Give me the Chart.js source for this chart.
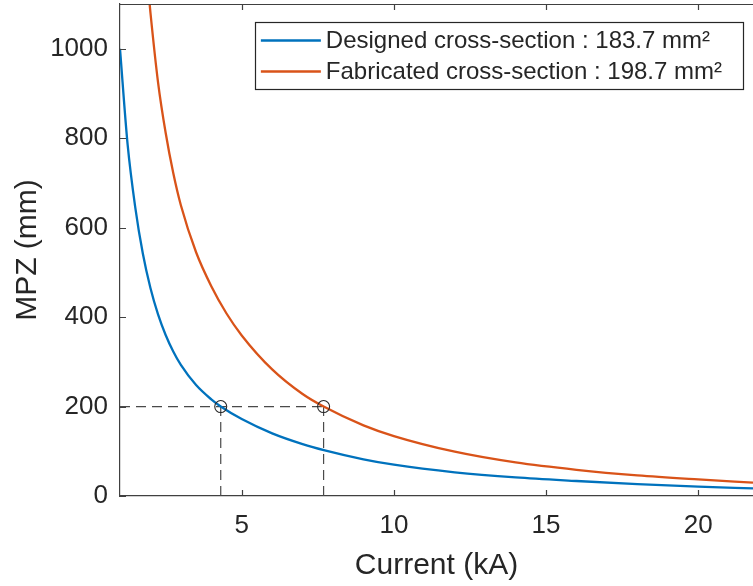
<!DOCTYPE html>
<html><head><meta charset="utf-8">
<script src="https://cdn.jsdelivr.net/npm/chart.js@4.4.0/dist/chart.umd.min.js"></script>
<style>html,body{margin:0;padding:0;background:#fff;overflow:hidden}#wrap{width:753px;height:586px}</style>
</head><body><div id="wrap"><canvas id="c" width="753" height="586"></canvas></div>
<script>
// ---- data ----
const designedX = [1, 1.25, 1.5, 1.75, 2, 2.25, 2.5, 2.75, 3, 3.5, 4, 4.31, 5, 6, 7, 7.73, 9, 10, 12, 14, 16, 18, 20, 21.8];
const designedY = [1000, 786, 646, 542, 465, 406, 360, 323, 293, 248, 216, 200, 172, 140, 116, 102, 82, 70, 53, 41.5, 33.5, 26.5, 21, 17];
const fabricatedX = [1.9, 2, 2.25, 2.5, 2.75, 3, 3.5, 4, 4.5, 5, 6, 7, 7.69, 9, 10, 12, 14, 16, 18, 20, 21.8];
const fabricatedY = [1154, 1081, 925, 812, 722, 650, 545, 469, 408, 359, 283, 228, 200, 158, 134, 99, 75, 58.5, 46, 37, 30];
const markerX = [4.31, 7.69];
const markerY = [200, 200];
const xTicks = [5, 10, 15, 20];
const yTicks = [0, 200, 400, 600, 800, 1000];
const seriesLabels = ['Designed cross-section : 183.7 mm\u00B2', 'Fabricated cross-section : 198.7 mm\u00B2'];
const xTitle = 'Current (kA)';
const yTitle = 'MPZ (mm)';

const TXT = '#262626';
const AX = '#404040';
const FONT = "'Liberation Sans', Arial, sans-serif";

const pts = (xs, ys) => xs.map((x, i) => ({x, y: ys[i]}));

const datasets = [
  { label: '_markers', data: pts(markerX, markerY), showLine: false, pointRadius: 6, pointHoverRadius: 6,
    pointStyle: 'circle', pointBackgroundColor: 'rgba(0,0,0,0)', pointBorderColor: '#262626', pointBorderWidth: 1.1 },
  { label: seriesLabels[0], data: pts(designedX, designedY), borderColor: '#0072BD', borderWidth: 2.3,
    pointRadius: 0, cubicInterpolationMode: 'monotone', fill: false },
  { label: seriesLabels[1], data: pts(fabricatedX, fabricatedY), borderColor: '#D95319', borderWidth: 2.3,
    pointRadius: 0, cubicInterpolationMode: 'monotone', fill: false },
  { label: '_h', data: [{x: 1, y: markerY[0]}, {x: markerX[1], y: markerY[1]}], borderColor: '#4a4a4a', borderWidth: 1.2,
    borderDash: [10, 6], pointRadius: 0 },
  { label: '_v1', data: [{x: markerX[0], y: 0}, {x: markerX[0], y: markerY[0]}], borderColor: '#4a4a4a', borderWidth: 1.2,
    borderDash: [10, 6], pointRadius: 0 },
  { label: '_v2', data: [{x: markerX[1], y: 0}, {x: markerX[1], y: markerY[1]}], borderColor: '#4a4a4a', borderWidth: 1.2,
    borderDash: [10, 6], pointRadius: 0 }
];

const axesPlugin = {
  id: 'matlabAxes',
  afterDraw(chart) {
    const {ctx, chartArea: a, scales: {x, y}} = chart;
    ctx.save();
    ctx.strokeStyle = AX; ctx.lineWidth = 1.2;
    ctx.beginPath();
    ctx.moveTo(a.left, a.top + 0.5); ctx.lineTo(a.right, a.top + 0.5);
    xTicks.forEach(v => {
      const px = Math.round(x.getPixelForValue(v)) + 0.5;
      ctx.moveTo(px, a.bottom); ctx.lineTo(px, a.bottom - 6);
      ctx.moveTo(px, a.top); ctx.lineTo(px, a.top + 6);
    });
    yTicks.forEach(v => {
      const py = Math.round(y.getPixelForValue(v)) + 0.5;
      ctx.moveTo(a.left, py); ctx.lineTo(a.left + 6, py);
    });
    ctx.stroke();
    // legend
    const entries = chart.data.datasets.filter(d => seriesLabels.includes(d.label));
    ctx.font = '24px ' + FONT;
    const tw = Math.max(...entries.map(e => ctx.measureText(e.label).width));
    const bw = 6 + 60 + 5 + tw + 21;
    const right = a.right - 10, top = a.top + 18, bh = 67;
    const left = right - bw;
    ctx.fillStyle = '#fff';
    ctx.fillRect(left, top, bw, bh);
    ctx.strokeStyle = '#262626'; ctx.lineWidth = 1.2;
    ctx.strokeRect(Math.round(left) + 0.5, top + 0.5, Math.round(bw), bh);
    entries.forEach((e, i) => {
      const cy = top + 18.5 + i * 31;
      ctx.strokeStyle = e.borderColor; ctx.lineWidth = 2.3;
      ctx.beginPath(); ctx.moveTo(left + 6, cy); ctx.lineTo(left + 66, cy); ctx.stroke();
      ctx.fillStyle = TXT; ctx.textBaseline = 'middle'; ctx.textAlign = 'left';
      ctx.fillText(e.label, left + 71, cy + 1);
    });
    ctx.restore();
  }
};

new Chart(document.getElementById('c'), {
  type: 'line',
  data: { datasets },
  options: {
    responsive: false, animation: false, devicePixelRatio: 1,
    layout: { autoPadding: false, padding: { top: 4, left: 0, right: 0, bottom: 0 } },
    plugins: { legend: { display: false }, tooltip: { enabled: false } },
    scales: {
      x: {
        type: 'linear', min: 1, max: 21.8,
        afterBuildTicks: s => { s.ticks = xTicks.map(v => ({value: v})); },
        afterFit: s => { s.height = 90; s.paddingLeft = 0; s.paddingRight = 0; },
        grid: { display: false, drawTicks: false },
        border: { display: true, color: AX, width: 1.2 },
        ticks: { color: TXT, font: { family: FONT, size: 26 }, padding: 14, maxRotation: 0, callback: v => String(v) },
        title: { display: true, text: xTitle, color: TXT, font: { family: FONT, size: 30 }, padding: { top: 0, bottom: 2 } }
      },
      y: {
        type: 'linear', min: 0, max: 1100,
        afterBuildTicks: s => { s.ticks = yTicks.map(v => ({value: v})); },
        afterFit: s => { s.width = 120; s.paddingTop = 0; s.paddingBottom = 0; },
        grid: { display: false, drawTicks: false },
        border: { display: true, color: AX, width: 1.2 },
        ticks: { color: TXT, font: { family: FONT, size: 26 }, padding: 12, callback: v => String(v) },
        title: { display: true, text: yTitle, color: TXT, font: { family: FONT, size: 30 }, padding: { top: 10, bottom: 0 } }
      }
    }
  },
  plugins: [axesPlugin]
});
</script></body></html>
